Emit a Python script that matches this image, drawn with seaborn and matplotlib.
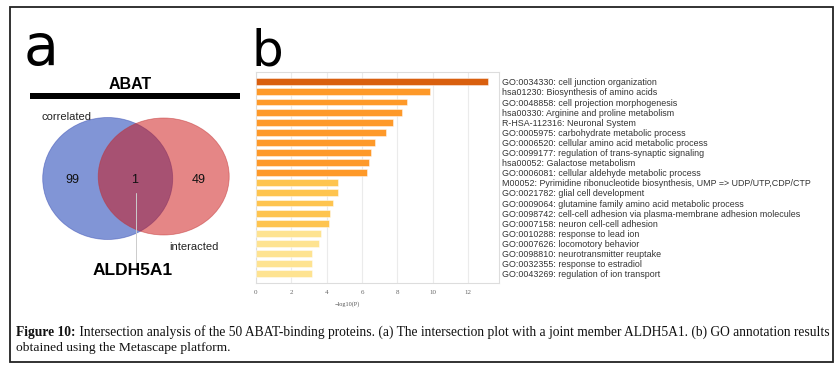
import matplotlib
matplotlib.use("Agg")
import matplotlib.pyplot as plt
import seaborn as sns
import pandas as pd
from matplotlib.patches import Ellipse, Rectangle

# ---------------- data ----------------
terms = [
    "GO:0034330: cell junction organization",
    "hsa01230: Biosynthesis of amino acids",
    "GO:0048858: cell projection morphogenesis",
    "hsa00330: Arginine and proline metabolism",
    "R-HSA-112316: Neuronal System",
    "GO:0005975: carbohydrate metabolic process",
    "GO:0006520: cellular amino acid metabolic process",
    "GO:0099177: regulation of trans-synaptic signaling",
    "hsa00052: Galactose metabolism",
    "GO:0006081: cellular aldehyde metabolic process",
    "M00052: Pyrimidine ribonucleotide biosynthesis, UMP => UDP/UTP,CDP/CTP",
    "GO:0021782: glial cell development",
    "GO:0009064: glutamine family amino acid metabolic process",
    "GO:0098742: cell-cell adhesion via plasma-membrane adhesion molecules",
    "GO:0007158: neuron cell-cell adhesion",
    "GO:0010288: response to lead ion",
    "GO:0007626: locomotory behavior",
    "GO:0098810: neurotransmitter reuptake",
    "GO:0032355: response to estradiol",
    "GO:0043269: regulation of ion transport",
]
neg_log_p = [13.11, 9.86, 8.56, 8.26, 7.74, 7.36, 6.73, 6.49, 6.38, 6.26,
             4.62, 4.62, 4.34, 4.17, 4.13, 3.66, 3.55, 3.19, 3.19, 3.15]
x_ticks = [0, 2, 4, 6, 8, 10, 12]

set_names = ["correlated", "interacted"]
venn_counts = [99, 1, 49]
title_gene = "ABAT"
joint_member = "ALDH5A1"

caption_bold = "Figure 10:"
caption_line1 = (" Intersection analysis of the 50 ABAT-binding proteins. (a) The intersection "
                 "plot with a joint member ALDH5A1. (b) GO annotation results")
caption_line2 = "obtained using the Metascape platform."


def bin_color(v):
    if v >= 10:
        return "#D95F0E"
    if v >= 6:
        return "#FE9929"
    if v >= 4:
        return "#FEC44F"
    return "#FEE391"


# ---------------- figure ----------------
sns.set_style("white")
plt.rcParams["font.family"] = ["Liberation Sans", "DejaVu Sans"]

W, H = 839, 371
fig = plt.figure(figsize=(W / 100, H / 100), dpi=100)
fig.patch.set_facecolor("white")

bg = fig.add_axes([0, 0, 1, 1])
bg.set_xlim(0, W)
bg.set_ylim(H, 0)
bg.axis("off")

# outer frame
bg.add_patch(Rectangle((10, 7), 823, 355, fill=False, edgecolor="#222222", lw=1.3))

# panel letters
bg.text(24, 64.5, "a", fontsize=41, family="DejaVu Sans", color="black", va="baseline", ha="left")
bg.text(251, 65, "b", fontsize=36, family="DejaVu Sans", color="black", va="baseline", ha="left")

# ---------------- panel a: venn ----------------
bg.text(130, 89, title_gene, fontsize=11.5, fontweight="bold", ha="center", va="baseline", color="black")
bg.add_patch(Rectangle((30, 92.7), 210, 6.6, facecolor="black", edgecolor="none"))

bg.add_patch(Ellipse((107.7, 178.5), 130, 122, facecolor="#052DAF", alpha=0.5,
                     edgecolor="#3348b0", lw=0.6))
bg.add_patch(Ellipse((163.7, 176.5), 131, 117, facecolor="#CD0F0F", alpha=0.5,
                     edgecolor="#c03030", lw=0.6))

bg.text(72.7, 183, str(venn_counts[0]), fontsize=9, ha="center", va="baseline", color="#111111")
bg.text(134.3, 183, str(venn_counts[1]), fontsize=9, ha="center", va="baseline", color="#111111")
bg.text(199, 183, str(venn_counts[2]), fontsize=9, ha="center", va="baseline", color="#111111")

bg.text(67, 120, set_names[0], fontsize=8, ha="center", va="baseline", color="#222222")
bg.text(194, 250, set_names[1], fontsize=8, ha="center", va="baseline", color="#222222")

bg.plot([135.7, 135.7], [193, 264], color="#cccccc", lw=0.7)
bg.text(133, 275, joint_member, fontsize=12.5, fontweight="bold", ha="center", va="baseline", color="black")

# ---------------- panel b: bars ----------------
left, right, top, bottom = 256, 499, 71.7, 283
ax = fig.add_axes([left / W, (H - bottom) / H, (right - left) / W, (bottom - top) / H])
df = pd.DataFrame({"term": terms, "value": neg_log_p})
palette = {t: bin_color(v) for t, v in zip(terms, neg_log_p)}
sns.barplot(data=df, x="value", y="term", hue="term", palette=palette, legend=False,
            orient="h", width=0.68, ax=ax, saturation=1,
            edgecolor=(1, 1, 1, 0.45), linewidth=0.7, zorder=3)
ax.set_xlim(0, 13.75)
ax.set_ylim(19.92, -1.0)
ax.set_xticks(x_ticks)
ax.set_xticklabels([str(t) for t in x_ticks], family="Liberation Serif", fontsize=5, color="#666666")
ax.tick_params(axis="x", length=0, pad=5)
ax.xaxis.grid(True, color="#ebebeb", lw=0.8, zorder=0)
ax.yaxis.grid(False)
ax.set_axisbelow(True)
for s in ax.spines.values():
    s.set_color("#dddddd")
    s.set_linewidth(0.8)
ax.yaxis.tick_right()
ax.tick_params(axis="y", length=0, pad=2.2)
ax.set_ylabel("")
ax.set_xlabel("\u2212log10(P)", family="Liberation Serif", fontsize=4.5, color="#555555")
ax.xaxis.set_label_coords((347 - left) / (right - left), -(301 - bottom) / (bottom - top))

fig.canvas.draw()
renderer = fig.canvas.get_renderer()

# fit label size so the longest term spans ~312 px
labels = ax.get_yticklabels()
fs = 6.0
for lab in labels:
    lab.set_fontsize(fs)
    lab.set_color("#333333")
    lab.set_family("Liberation Sans")
widths = [lab.get_window_extent(renderer).width for lab in labels]
fs = fs * 312.0 / max(widths)
for lab in labels:
    lab.set_fontsize(fs)

# ---------------- caption ----------------
cap_fs = 8.5
for _ in range(3):
    for t in list(bg.texts):
        if getattr(t, "_is_caption", False):
            t.remove()
    tb = bg.text(16, 336, caption_bold, fontsize=cap_fs, fontweight="bold",
                 family="Liberation Serif", ha="left", va="baseline", color="#111111")
    tb._is_caption = True
    wb = tb.get_window_extent(renderer).width
    tr = bg.text(16 + wb, 336, caption_line1, fontsize=cap_fs,
                 family="Liberation Serif", ha="left", va="baseline", color="#111111")
    tr._is_caption = True
    wr = tr.get_window_extent(renderer).width
    cap_fs = cap_fs * 812.0 / (wb + wr)
t2 = bg.text(16, 351, caption_line2, fontsize=cap_fs, family="Liberation Serif",
             ha="left", va="baseline", color="#111111")

fig.savefig("out.png", dpi=100)
